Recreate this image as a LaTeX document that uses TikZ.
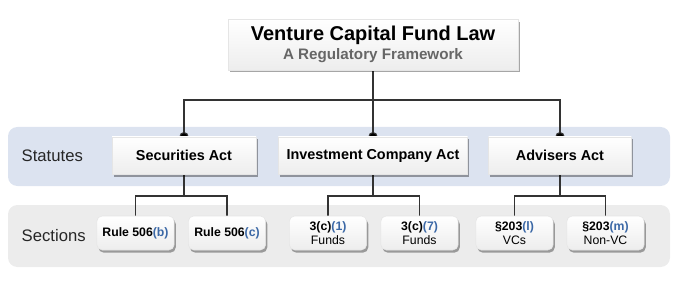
\documentclass[tikz,border=0pt]{standalone}
\usepackage{fontspec}
\setmainfont{Liberation Sans}
\usepackage{xcolor}
\usetikzlibrary{positioning,shadows,backgrounds}

\definecolor{statband}{HTML}{DCE3F0}
\definecolor{secband}{HTML}{ECECEC}
\definecolor{lawblue}{HTML}{3B68A6}
\definecolor{wire}{HTML}{333333}
\definecolor{subgray}{HTML}{666666}
\newcommand{\lawpart}[1]{\textcolor{lawblue}{#1}}

\begin{document}
\begin{tikzpicture}[
  x=0.75pt, y=-0.75pt,
  box/.style={draw=black!10, top color=white, bottom color=black!7, align=center,
    drop shadow={shadow xshift=1.2pt, shadow yshift=-2pt, opacity=0.35, fill=black}},
  titlebox/.style={box, minimum width=217.5pt, minimum height=38pt, inner sep=2pt},
  actbox/.style={box, minimum height=28pt, font=\fontsize{10.8}{12}\selectfont\bfseries},
  secbox/.style={box, rounded corners=4pt, minimum width=58pt, minimum height=25.5pt, inner sep=1pt,
    font=\fontsize{9.2}{10.5}\selectfont},
  band/.style={rounded corners=7pt},
  rowlabel/.style={anchor=west, font=\fontsize{12.5}{14}\selectfont, text=black!85},
  wire/.style={draw=wire, line width=0.8pt}
]
\useasboundingbox (0,0) rectangle (680,281);

% top
\node[titlebox] (title) at (373,44.5)
  {{\fontsize{15}{17}\selectfont\bfseries Venture Capital Fund Law}\\[2.5pt]
   {\fontsize{11.4}{13}\selectfont\bfseries\color{subgray} A Regulatory Framework}};

% statutes
\node[actbox, minimum width=108pt] (secact) at (184,155.5) {Securities Act};
\node[actbox, minimum width=142pt] (icact) at (373,155.5) {Investment Company Act};
\node[actbox, minimum width=107pt] (advact) at (560,155.5) {Advisers Act};

% sections
\node[secbox] (r506b) at (135.5,233) {\textbf{Rule 506\lawpart{(b)}}};
\node[secbox] (r506c) at (227,233) {\textbf{Rule 506\lawpart{(c)}}};
\node[secbox] (s3c1) at (328,233) {\textbf{3(c)\lawpart{(1)}}\\Funds};
\node[secbox] (s3c7) at (419.5,233) {\textbf{3(c)\lawpart{(7)}}\\Funds};
\node[secbox] (s203l) at (514.5,233) {\textbf{§203\lawpart{(l)}}\\VCs};
\node[secbox] (s203m) at (605.5,233) {\textbf{§203\lawpart{(m)}}\\Non-VC};

\node[rowlabel] (statlbl) at (17,156) {Statutes};
\node[rowlabel] (seclbl) at (17,236) {Sections};

\coordinate (bus) at (373,100);
\coordinate (secbus) at (184,196);
\coordinate (icbus) at (373,196);
\coordinate (advbus) at (560,196);

\begin{scope}[on background layer]
  \fill[statband, band] (8,127) rectangle (670,186);
  \fill[secband, band] (8,205) rectangle (670,267);
  \draw[wire] (title) -- (bus);
  \draw[wire] (secact.north) |- (bus) -| (advact.north);
  \draw[wire] (bus) -- (icact.north);
  \foreach \act in {secact,icact,advact}
    \fill[wire] (\act.north) circle (3pt);
  \draw[wire] (secact) -- (secbus);
  \draw[wire] (r506b.north) |- (secbus) -| (r506c.north);
  \draw[wire] (icact) -- (icbus);
  \draw[wire] (s3c1.north) |- (icbus) -| (s3c7.north);
  \draw[wire] (advact) -- (advbus);
  \draw[wire] (s203l.north) |- (advbus) -| (s203m.north);
\end{scope}
\end{tikzpicture}
\end{document}
